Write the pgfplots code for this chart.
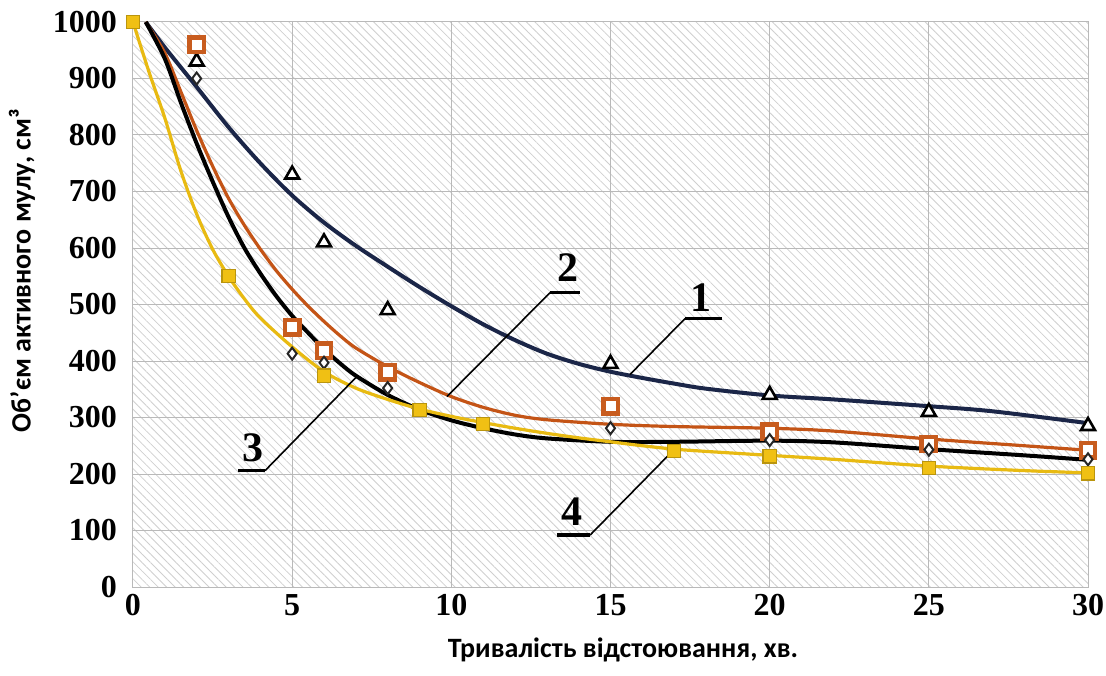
\documentclass[border=0pt]{standalone}
\usepackage{fontspec}
\setmainfont{Liberation Serif}
\newfontfamily\labfont{Carlito}
\usepackage{pgfplots}
\pgfplotsset{compat=1.18}
\usetikzlibrary{patterns.meta}

\definecolor{cnavy}{RGB}{27,38,72}
\definecolor{corange}{RGB}{196,84,22}
\definecolor{cmorange}{RGB}{200,92,30}
\definecolor{cyellow}{RGB}{232,186,18}
\definecolor{cmyellow}{RGB}{240,192,20}

\begin{document}
\begin{tikzpicture}
\begin{axis}[
  name=ax,
  scale only axis,
  width=477.5pt, height=282.5pt,
  xmin=0, xmax=30, ymin=0, ymax=1000,
  xtick={0,5,...,30}, ytick={0,100,...,1000},
  grid=major,
  major grid style={draw=gray!55, line width=0.5pt},
  axis line style={draw=gray!55, line width=0.5pt},
  major tick length=0pt,
  /pgf/number format/assume math mode=true,
  /pgf/number format/1000 sep={},
  tick label style={font=\fontsize{16}{16}\selectfont\bfseries},
  yticklabel style={xshift=-4.5pt},
  xticklabel style={yshift=0pt},
  axis background/.style={pattern={Lines[angle=-45,distance=3pt,line width=0.4pt]}, pattern color=gray!38},
  xlabel={\labfont\bfseries Тривалість відстоювання, хв.},
  ylabel={\labfont\bfseries Об’єм активного мулу, см³},
  xlabel style={at={(axis description cs:0.513,-0.1115)}, anchor=center, font=\fontsize{14}{14}\selectfont},
  ylabel style={at={(axis description cs:-0.1162,0.56)}, anchor=center, rotate=0, font=\fontsize{14}{14}\selectfont},
  clip=false,
]
% trend curves
\addplot[cnavy, line width=2pt, smooth, tension=0.5] coordinates {
 (0.4,1000) (1,955) (2,885) (3,814) (4,750) (5,693) (6,645) (7,604) (8,567) (9,531) (10,497) (11,465) (12,437) (13,413) (14,395) (15,381) (16,370) (17,360) (18,351) (20,339) (22,332) (25,320) (27,311) (30,290)};
\addplot[corange, line width=1.6pt, smooth, tension=0.5] coordinates {
 (0.4,1000) (1,945) (1.5,877) (2,808) (2.5,745) (3,688) (3.5,640) (4,598) (4.5,560) (5,527) (5.5,497) (6,470) (6.5,445) (7,423) (8,390) (9,362) (10,337) (11,318) (12,304) (13,296) (15,288) (17,284) (20,281) (22,276) (25,262) (28,250) (30,242)};
\addplot[black, line width=2pt, smooth, tension=0.5] coordinates {
 (0.4,1000) (1,935) (1.5,858) (2,785) (2.5,718) (3,655) (3.5,600) (4,555) (4.5,515) (5,480) (5.5,450) (6,421) (6.5,396) (7,374) (8,340) (9,314) (10,295) (11,281) (12,270) (13,263) (15,257) (17,257) (20,259) (22,256) (25,244) (28,233) (30,225)};
\addplot[cyellow, line width=1.6pt, smooth, tension=0.5] coordinates {
 (0,1000) (0.5,912) (1,830) (1.5,737) (2,660) (2.5,598) (3,550) (3.5,510) (4,476) (5,425) (6,381) (7,352) (8,332) (9,315) (10,302) (11,291) (12,281) (13,272) (14,264) (15,257) (16,250) (17,244) (18,240) (20,233) (22,226) (25,214) (28,206) (30,202)};
% data markers
\addplot[only marks, mark=triangle*, mark size=4pt, mark options={fill=white, draw=black, line width=1.3pt}] coordinates {
 (2,930) (5,730) (6,610) (8,490) (15,395) (20,340) (25,310) (30,285)};
\addplot[only marks, mark=square*, mark size=3.6pt, mark options={fill=white, draw=cmorange, line width=2.2pt}] coordinates {
 (2,960) (5,460) (6,418) (8,380) (15,320) (20,275) (25,253) (30,242)};
\addplot[only marks, mark=diamond*, mark size=3pt, mark options={fill=white, draw=black!85, line width=1pt}] coordinates {
 (2,900) (5,413) (6,397) (8,352) (15,281) (20,260) (25,243) (30,226)};
\addplot[only marks, mark=square*, mark size=3.3pt, mark options={fill=cmyellow, draw=cyellow!80!black, line width=0.6pt}] coordinates {
 (0,1000) (3,550) (6,374) (9,313) (11,288) (17,241) (20,231) (25,211) (30,201)};
% annotations
\draw[line width=0.8pt] (axis cs:17.34,475) -- (axis cs:15.61,376);
\draw[line width=1.8pt] (axis cs:17.34,475) -- (axis cs:18.5,475);
\node[font=\fontsize{21}{21}\selectfont\bfseries] at (axis cs:17.85,512) {1};
\draw[line width=0.8pt] (axis cs:13.1,521) -- (axis cs:9.86,337);
\draw[line width=1.8pt] (axis cs:13.1,521) -- (axis cs:14.04,521);
\node[font=\fontsize{21}{21}\selectfont\bfseries] at (axis cs:13.67,566) {2};
\draw[line width=0.8pt] (axis cs:4.15,206) -- (axis cs:7.04,373);
\draw[line width=1.8pt] (axis cs:3.3,206) -- (axis cs:4.15,206);
\node[font=\fontsize{21}{21}\selectfont\bfseries] at (axis cs:3.77,247) {3};
\draw[line width=0.8pt] (axis cs:14.36,92) -- (axis cs:16.87,236);
\draw[line width=1.8pt] (axis cs:13.32,92) -- (axis cs:14.36,92);
\node[font=\fontsize{21}{21}\selectfont\bfseries] at (axis cs:13.79,133) {4};
\end{axis}
\pgfresetboundingbox
\path ([shift={(-66.5pt,-44pt)}]ax.south west) rectangle ([shift={(9pt,11pt)}]ax.north east);
\end{tikzpicture}
\end{document}
